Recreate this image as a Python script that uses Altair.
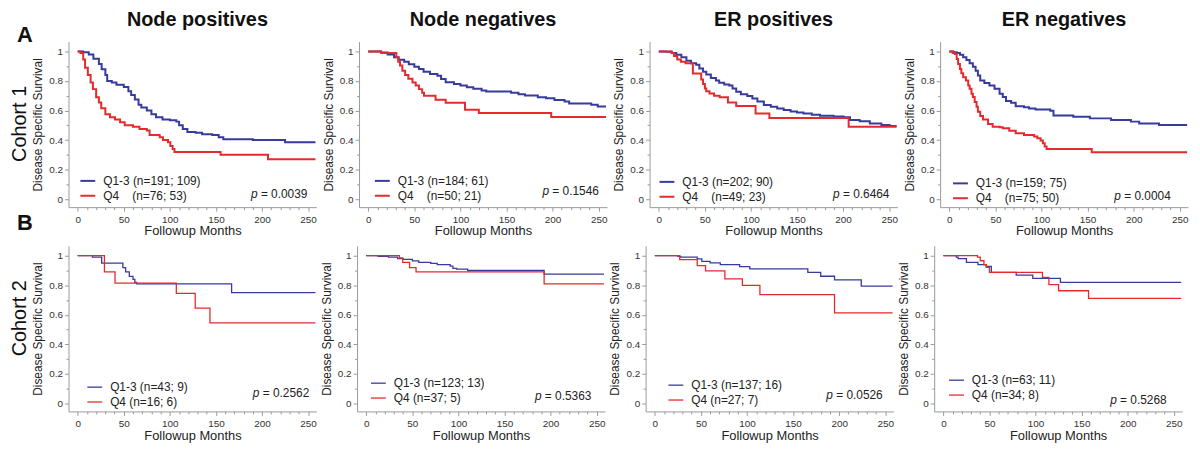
import altair as alt
import pandas as pd

FONT = "Liberation Sans"
BLUE = "#363b9c"
RED = "#e52a2e"
AXC = "#9a9a9a"

column_titles = ["Node positives", "Node negatives", "ER positives", "ER negatives"]
row_titles = ["Cohort 1", "Cohort 2"]
row_letters = ["A", "B"]

labels_q13 = ["Q1-3 (n=191; 109)", "Q1-3 (n=184; 61)", "Q1-3 (n=202; 90)", "Q1-3 (n=159; 75)",
              "Q1-3 (n=43; 9)", "Q1-3 (n=123; 13)", "Q1-3 (n=137; 16)", "Q1-3 (n=63; 11)"]
NB = "\u00a0"
labels_q4 = ["Q4" + NB * 4 + "(n=76; 53)", "Q4" + NB * 4 + "(n=50; 21)", "Q4" + NB * 4 + "(n=49; 23)",
             "Q4" + NB * 4 + "(n=75; 50)", "Q4 (n=16; 6)", "Q4 (n=37; 5)", "Q4 (n=27; 7)", "Q4 (n=34; 8)"]
p_values = ["0.0039", "0.1546", "0.6464", "0.0004", "0.2562", "0.5363", "0.0526", "0.5268"]
pval_x = [188, 189, 189, 179, 190, 183, 186, 181]
pval_y = [0.01, 0.027, 0.01, -0.005, 0.042, 0.024, 0.03, -0.003]

# Cohort 1 - Node positives
c1_npos_q13_t = [0, 6, 12, 17, 23, 26, 30, 32, 37, 42, 50, 55, 58, 62, 66, 69, 75, 80, 85, 92,
                 100, 107, 110, 114, 119, 128, 135, 146, 153, 158, 190, 225, 258]
c1_npos_q13_s = [1.0, 0.995, 0.98, 0.95, 0.915, 0.88, 0.84, 0.80, 0.79, 0.775, 0.76, 0.73, 0.705, 0.675,
                 0.64, 0.62, 0.60, 0.575, 0.555, 0.54, 0.535, 0.525, 0.50, 0.475, 0.455, 0.45, 0.44,
                 0.435, 0.42, 0.405, 0.40, 0.385, 0.385]
c1_npos_q4_t = [0, 3, 6, 8, 11, 14, 16.5, 20, 23, 25.5, 30, 35, 40.5, 46, 51, 60, 67, 75, 78, 89,
                92.5, 98, 100.5, 103, 105, 155, 206.5, 258]
c1_npos_q4_s = [1.0, 0.99, 0.945, 0.89, 0.84, 0.79, 0.745, 0.69, 0.655, 0.615, 0.575, 0.555, 0.54, 0.52,
                0.50, 0.49, 0.475, 0.465, 0.435, 0.42, 0.40, 0.385, 0.36, 0.34, 0.32, 0.30, 0.27, 0.27]
# Cohort 1 - Node negatives
c1_nneg_q13_t = [0, 14, 21, 28, 33, 39, 44, 50, 55, 60, 67, 75, 79, 84, 93, 100, 107, 114, 123, 128,
                 155, 163, 170, 184, 193, 202, 213, 218, 242, 249, 258]
c1_nneg_q13_s = [1.0, 0.993, 0.98, 0.96, 0.944, 0.93, 0.913, 0.897, 0.881, 0.863, 0.848, 0.836, 0.814,
                 0.791, 0.78, 0.769, 0.758, 0.747, 0.735, 0.729, 0.72, 0.711, 0.702, 0.69, 0.684, 0.672,
                 0.661, 0.648, 0.639, 0.628, 0.628]
c1_nneg_q4_t = [0, 14, 30.5, 32.5, 34.5, 37, 40, 43.5, 48, 51.5, 55, 58.5, 60.5, 73, 84, 105, 120, 198.5, 258]
c1_nneg_q4_s = [1.0, 0.99, 0.96, 0.93, 0.905, 0.87, 0.84, 0.815, 0.79, 0.77, 0.745, 0.72, 0.70, 0.673,
                0.652, 0.605, 0.583, 0.556, 0.556]
# Cohort 1 - ER positives
c1_epos_q13_t = [0, 8, 14, 19, 24.5, 30, 35, 40.5, 44, 48, 51.5, 56.5, 62, 65.5, 71, 76.5, 80, 84, 89, 96,
                 101.5, 107, 114, 121.5, 128.5, 135.5, 143, 150, 157, 166, 175, 189.5, 200.5, 207.5,
                 218, 229, 241.5, 250.5, 258]
c1_epos_q13_s = [1.0, 0.998, 0.99, 0.978, 0.96, 0.9375, 0.92, 0.91, 0.884, 0.862, 0.844, 0.821, 0.804,
                 0.788, 0.777, 0.77, 0.75, 0.728, 0.71, 0.699, 0.681, 0.661, 0.638, 0.625, 0.614, 0.603,
                 0.594, 0.587, 0.58, 0.571, 0.565, 0.56, 0.554, 0.536, 0.527, 0.513, 0.502, 0.496, 0.496]
c1_epos_q4_t = [0, 14, 16.5, 20, 24, 29, 37, 46, 48, 50, 51.5, 55, 60, 66, 75, 84, 105, 120, 206, 258]
c1_epos_q4_s = [1.0, 0.99, 0.97, 0.945, 0.93, 0.92, 0.85, 0.81, 0.78, 0.75, 0.73, 0.715, 0.70, 0.69,
                0.655, 0.63, 0.58, 0.55, 0.49, 0.49]
# Cohort 1 - ER negatives
c1_eneg_q13_t = [0, 4.3, 8, 11.5, 15, 18.5, 22, 25.5, 28.5, 31, 33.5, 38, 43.5, 49, 54.5, 58, 61.5, 67, 72,
                 81, 86.5, 93.5, 109.5, 113, 134.5, 152.5, 175.5, 197, 206, 227.5, 258]
c1_eneg_q13_s = [1.0, 0.995, 0.99, 0.978, 0.96, 0.942, 0.92, 0.897, 0.87, 0.837, 0.804, 0.786, 0.77,
                 0.748, 0.714, 0.692, 0.665, 0.652, 0.629, 0.623, 0.614, 0.607, 0.598, 0.567, 0.558,
                 0.547, 0.536, 0.525, 0.513, 0.502, 0.502]
c1_eneg_q4_t = [0, 3.5, 6, 8, 9.5, 11.5, 13, 15, 18, 20.5, 22, 24, 25.5, 27.5, 29.5, 31, 33.5, 36.5, 42,
                47, 54.5, 58, 65, 72, 81, 92, 95.5, 99, 101.5, 103.5, 105.5, 154.5, 258]
c1_eneg_q4_s = [1.0, 0.99, 0.982, 0.949, 0.915, 0.882, 0.853, 0.826, 0.804, 0.77, 0.748, 0.714, 0.692,
                0.658, 0.625, 0.592, 0.5625, 0.54, 0.509, 0.491, 0.487, 0.48, 0.464, 0.446, 0.435,
                0.424, 0.413, 0.397, 0.379, 0.357, 0.339, 0.317, 0.317]
# Cohort 2
c2_npos_q13_t = [0, 16, 26, 49, 52, 56, 60, 62, 64, 167, 258]
c2_npos_q13_s = [1.0, 0.99, 0.95, 0.92, 0.89, 0.86, 0.84, 0.82, 0.81, 0.75, 0.75]
c2_npos_q4_t = [0, 29, 40.5, 107, 127.5, 143.5, 258]
c2_npos_q4_s = [1.0, 0.89, 0.815, 0.745, 0.645, 0.545, 0.545]
c2_nneg_q13_t = [0, 13, 24, 34, 40, 50, 57, 70, 77, 91, 94, 98, 110, 193, 258]
c2_nneg_q13_s = [1.0, 0.995, 0.99, 0.98, 0.975, 0.965, 0.955, 0.948, 0.94, 0.93, 0.915, 0.91, 0.90, 0.875, 0.875]
c2_nneg_q4_t = [0, 36, 39.5, 47, 54, 193, 258]
c2_nneg_q4_s = [1.0, 0.985, 0.955, 0.92, 0.89, 0.81, 0.81]
c2_epos_q13_t = [0, 25, 28, 46, 51, 60, 71, 92, 103, 166, 180, 195, 224, 258]
c2_epos_q13_s = [1.0, 0.995, 0.99, 0.978, 0.962, 0.951, 0.94, 0.926, 0.911, 0.888, 0.861, 0.837, 0.794, 0.794]
c2_epos_q4_t = [0, 27, 46, 55, 76, 95, 114, 195, 258]
c2_epos_q4_s = [1.0, 0.973, 0.933, 0.897, 0.843, 0.80, 0.736, 0.613, 0.613]
c2_eneg_q13_t = [0, 14, 16, 25, 37.5, 46.5, 52, 79, 97, 127, 258]
c2_eneg_q13_s = [1.0, 0.99, 0.98, 0.955, 0.94, 0.928, 0.887, 0.869, 0.847, 0.82, 0.82]
c2_eneg_q4_t = [0, 37, 40, 44, 46.5, 50, 107.5, 114.5, 125, 157.5, 258]
c2_eneg_q4_s = [1.0, 0.99, 0.966, 0.939, 0.921, 0.887, 0.853, 0.804, 0.763, 0.711, 0.711]

curves_q13 = [(c1_npos_q13_t, c1_npos_q13_s), (c1_nneg_q13_t, c1_nneg_q13_s),
              (c1_epos_q13_t, c1_epos_q13_s), (c1_eneg_q13_t, c1_eneg_q13_s),
              (c2_npos_q13_t, c2_npos_q13_s), (c2_nneg_q13_t, c2_nneg_q13_s),
              (c2_epos_q13_t, c2_epos_q13_s), (c2_eneg_q13_t, c2_eneg_q13_s)]
curves_q4 = [(c1_npos_q4_t, c1_npos_q4_s), (c1_nneg_q4_t, c1_nneg_q4_s),
             (c1_epos_q4_t, c1_epos_q4_s), (c1_eneg_q4_t, c1_eneg_q4_s),
             (c2_npos_q4_t, c2_npos_q4_s), (c2_nneg_q4_t, c2_nneg_q4_s),
             (c2_epos_q4_t, c2_epos_q4_s), (c2_eneg_q4_t, c2_eneg_q4_s)]

leg_x = [11, 15, 9, 12, 18, 13, 22, 14]
leg_y = [132, 132, 133, 134.5, 134, 130, 132, 127]
leg_row_pad = [-3, 0]
title_dx = [5, 0, 0, 0]

W, H = 250, 167
X_DOMAIN = [-10, 259]
Y_DOMAIN = [-0.054, 1.067]
x_ticks = list(range(0, 251, 10))
y_ticks = [round(0.1 * i, 1) for i in range(11)]


def make_panel(k):
    r, c = divmod(k, 4)
    sw = 2.0 if r == 0 else 1.3
    t1, s1 = curves_q13[k]
    t2, s2 = curves_q4[k]
    df = pd.concat([
        pd.DataFrame({"t": t1, "s": s1, "grp": labels_q13[k]}),
        pd.DataFrame({"t": t2, "s": s2, "grp": labels_q4[k]}),
    ], ignore_index=True)
    X = alt.X("t:Q", scale=alt.Scale(domain=X_DOMAIN, nice=False, zero=False),
              axis=alt.Axis(values=x_ticks, labelExpr="datum.value % 50 === 0 ? datum.label : ''",
                            tickSize={"condition": {"test": "datum.value % 50 === 0", "value": 4}, "value": 2.5},
                            labelPadding=3, labelFontSize=10, labelColor="#333", labelFont=FONT,
                            labelFlush=False, labelOverlap=False,
                            title="Followup Months", titleFontSize=13, titleFontWeight="normal",
                            titleColor="#222", titleFont=FONT, titlePadding=1,
                            domainColor=AXC, tickColor=AXC, grid=False))
    Y = alt.Y("s:Q", scale=alt.Scale(domain=Y_DOMAIN, nice=False, zero=False),
              axis=alt.Axis(values=y_ticks,
                            labelExpr="round(datum.value*10) % 2 === 0 ? (round(datum.value*10) % 10 === 0 ? format(datum.value, 'd') : format(datum.value, '.1f')) : ''",
                            tickSize={"condition": {"test": "round(datum.value*10) % 2 === 0", "value": 4}, "value": 2.5},
                            labelPadding=2, labelFontSize=10, labelColor="#333", labelFont=FONT,
                            labelFlush=False, labelOverlap=False,
                            title="Disease Specific Survival", titleFontSize=12, titleFontWeight="normal",
                            titleColor="#222", titleFont=FONT, titlePadding=4,
                            domainColor=AXC, tickColor=AXC, grid=False))
    lines = alt.Chart(df).mark_line(interpolate="step-after", strokeWidth=sw).encode(
        x=X, y=Y,
        color=alt.Color("grp:N", sort=[labels_q13[k], labels_q4[k]],
                        scale=alt.Scale(domain=[labels_q13[k], labels_q4[k]], range=[BLUE, RED]),
                        legend=alt.Legend(title=None, orient="none", legendX=leg_x[k], legendY=leg_y[k],
                                          symbolType="stroke", symbolSize=225, symbolStrokeWidth=sw,
                                          labelFontSize=12, labelFont=FONT, labelColor="#222",
                                          labelOffset=7, rowPadding=leg_row_pad[r], padding=0,
                                          labelLimit=300)),
    )
    pdf = pd.DataFrame({"t": [pval_x[k]], "s": [pval_y[k]], "p": ["p"], "v": ["= " + p_values[k]]})
    p_mark = alt.Chart(pdf).mark_text(align="left", baseline="alphabetic", fontStyle="italic",
                                      fontSize=12, font=FONT, color="#222").encode(x=X, y=Y, text="p:N")
    v_mark = alt.Chart(pdf).mark_text(align="left", baseline="alphabetic", dx=10,
                                      fontSize=12, font=FONT, color="#222").encode(x=X, y=Y, text="v:N")
    layers = [lines, p_mark, v_mark]
    if r == 0:
        tdf = pd.DataFrame({"label": [column_titles[c]]})
        layers.append(alt.Chart(tdf).mark_text(fontSize=20, fontWeight="bold", font=FONT, align="center",
                                               baseline="alphabetic", color="#111", dx=title_dx[c]).encode(
            x=alt.value(W / 2), y=alt.value(-15.5), text="label:N"))
    if c == 0:
        cdf = pd.DataFrame({"label": [row_titles[r]]})
        layers.append(alt.Chart(cdf).mark_text(fontSize=20, font=FONT, align="center", baseline="middle",
                                               angle=270, color="#111").encode(
            x=alt.value(-48.5), y=alt.value(83 if r == 0 else 73), text="label:N"))
        if r == 0:
            adf = pd.DataFrame({"label": row_letters, "yy": [0, 190]})
            layers.append(alt.Chart(adf).mark_text(fontSize=22, fontWeight="bold", font=FONT, align="center",
                                                   baseline="alphabetic", color="#111").encode(
                x=alt.value(-44), y=alt.Y("yy:Q", scale=None), text="label:N"))
    return alt.layer(*layers).properties(width=W, height=H)


rows = []
for r in range(2):
    rows.append(alt.hconcat(*[make_panel(r * 4 + c) for c in range(4)], spacing=2)
                .resolve_scale(color="independent"))

chart = (alt.vconcat(*rows, spacing=8)
         .resolve_scale(color="independent")
         .properties(padding={"left": 2, "top": 0, "right": 0, "bottom": 0}, background="white")
         .configure_view(stroke=None))

chart.save("out.html", embed_options={"renderer": "svg", "actions": False})
